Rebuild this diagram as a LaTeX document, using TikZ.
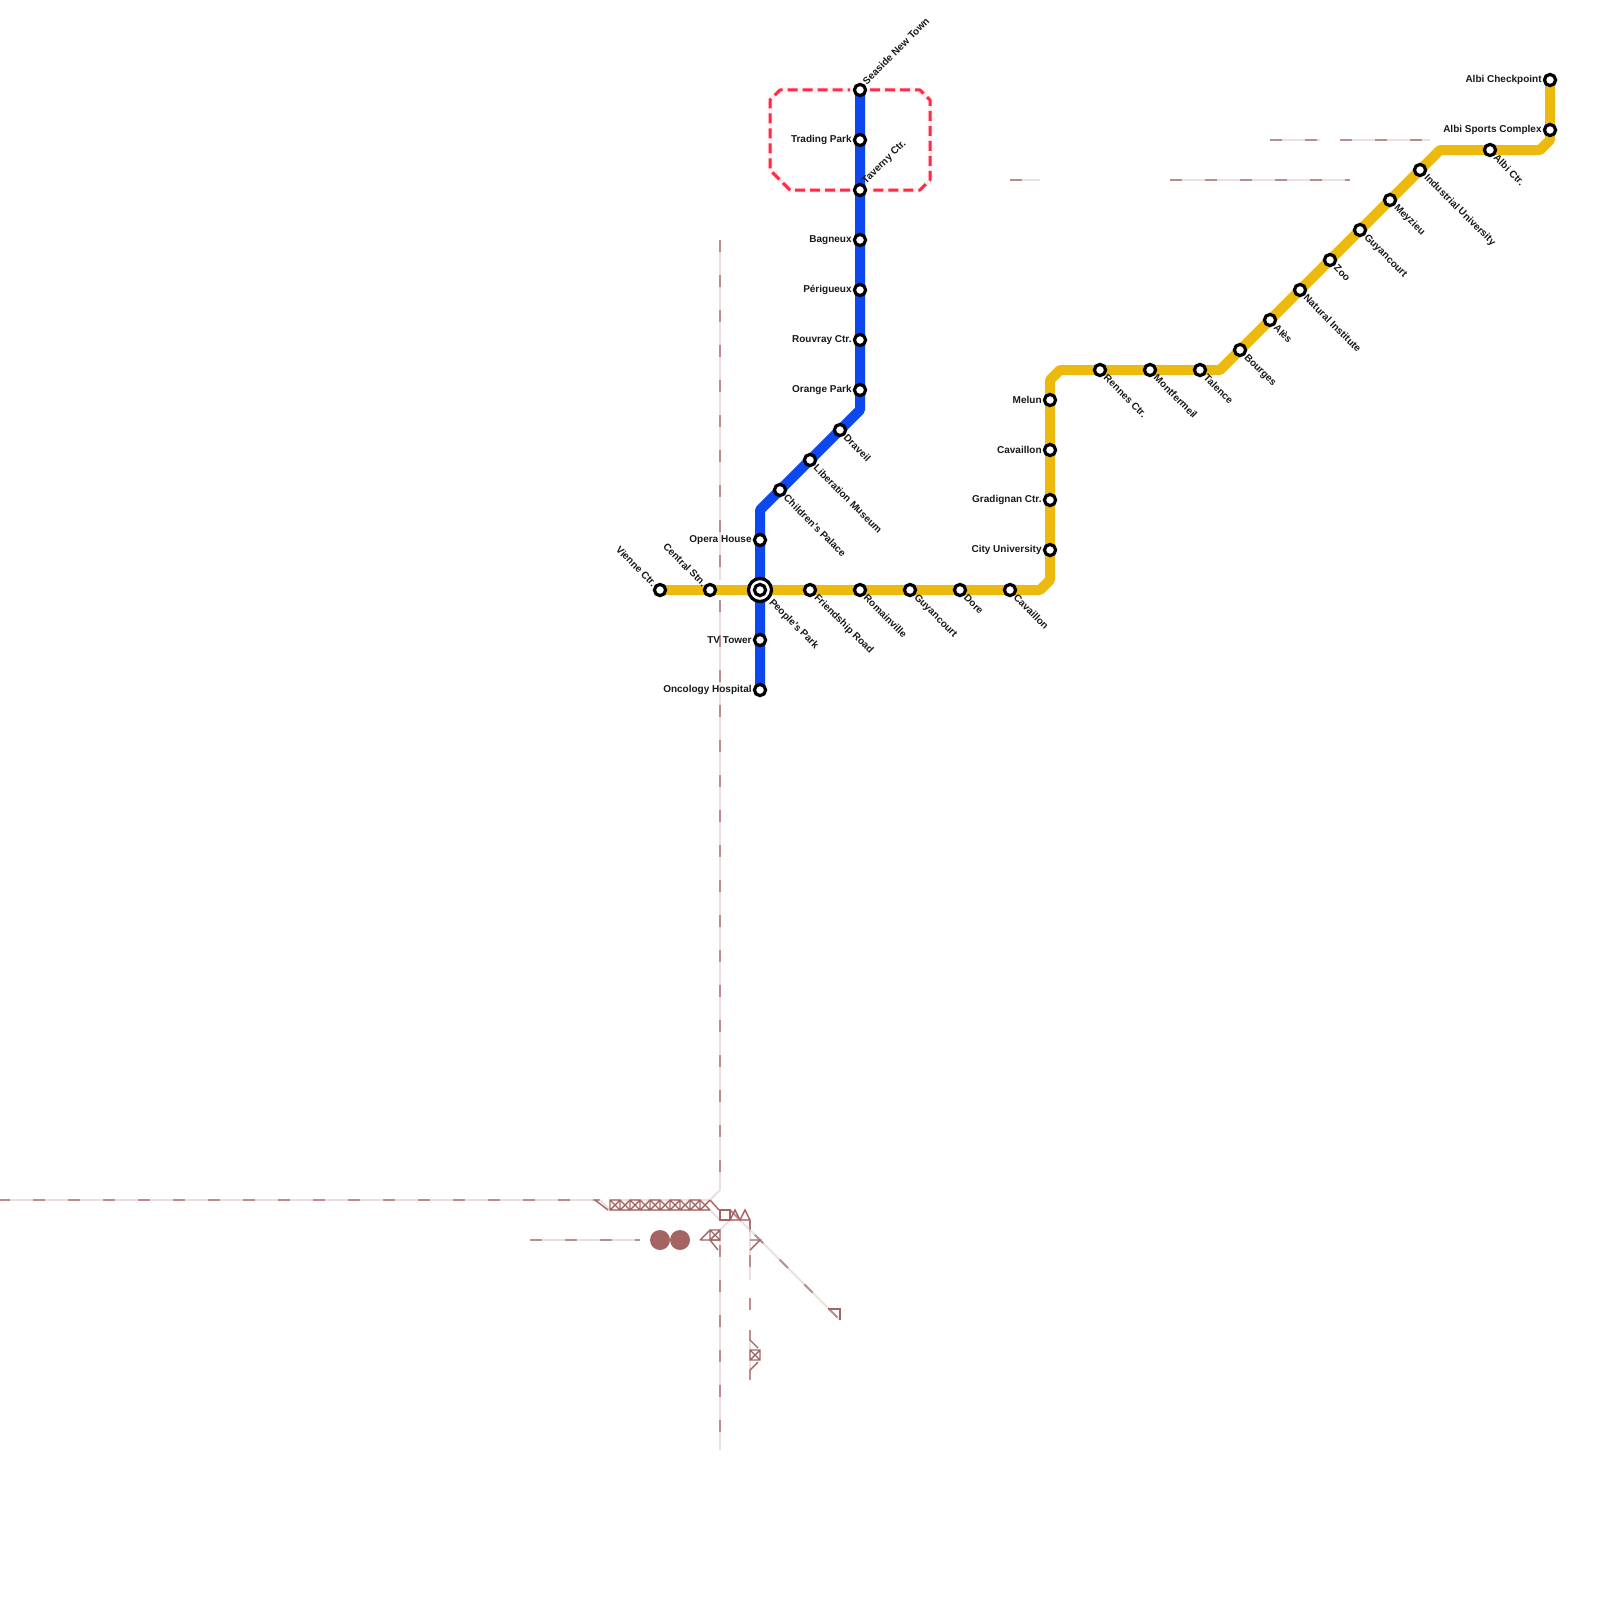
\documentclass[tikz,border=0pt]{standalone}
\usepackage{fontspec}
\setmainfont{Liberation Sans}
\usetikzlibrary{backgrounds}
\definecolor{ylw}{HTML}{ECBA0E}
\definecolor{blu}{HTML}{0D47EE}
\definecolor{redd}{HTML}{FF2A45}
\definecolor{halo}{HTML}{FFF0F2}
\definecolor{pale}{HTML}{ECDFDF}
\definecolor{dashcol}{HTML}{BA8E8E}
\definecolor{brn}{HTML}{A46464}
\tikzset{
  stn/.style={circle,draw=black,fill=white,line width=1.6pt,minimum size=5.6pt,inner sep=0pt},
  hub/.style={circle,draw=black,fill=white,line width=1.6pt,minimum size=11.5pt,inner sep=0pt},
  lbl/.style={font=\bfseries\fontsize{5}{6}\selectfont,inner sep=0pt,text=black!90},
  lblW/.style={lbl,anchor=east,yshift=-0.5pt},
  lblSE/.style={lbl,anchor=west,rotate=-45,xshift=0.5pt,yshift=-0.25pt},
  lblNE/.style={lbl,anchor=west,rotate=45,xshift=0.75pt},
  lblNW/.style={lbl,anchor=east,rotate=-45},
  ylwline/.style={draw=ylw,line width=5pt,line join=round},
  bluline/.style={draw=blu,line width=5pt,line join=round},
  redline/.style={draw=redd,line width=1.5pt,dash pattern=on 5pt off 2.5pt,line join=round},
  redhalo/.style={draw=halo,line width=2.5pt,line join=round},
  paleline/.style={draw=pale,line width=1pt},
  dashline/.style={draw=dashcol,line width=1pt,dash pattern=on 6pt off 11.5pt},
  mk/.style={draw=brn,line width=0.7pt},
}
\newcommand{\railA}[1]{\draw[paleline] #1; \draw[dashline] #1;}
\newcommand{\xbox}[2]{\draw[mk] (#1,#2) rectangle ++(10,10) (#1,#2) -- ++(10,10) (#1,#2+10) -- ++(10,-10);}
\newcommand{\xopen}[2]{\draw[mk] (#1,#2) -- ++(10,10) (#1,#2+10) -- ++(10,-10) (#1,#2+10) -- ++(10,0);}
\begin{document}
\begin{tikzpicture}[x=0.5pt,y=-0.5pt]
\useasboundingbox (0,0) rectangle (1600,1600);
% yellow stations
\node[stn] (vienne) at (660,590) {}; \node[lblNW] (lvienne) at (655,585) {Vienne Ctr.};
\node[stn] (central) at (710,590) {}; \node[lblNW] (lcentral) at (705,585) {Central Stn.};
\node[stn] (friend) at (810,590) {}; \node[lblSE] (lfriend) at (815,595) {Friendship Road};
\node[stn] (romain) at (860,590) {}; \node[lblSE] (lromain) at (865,595) {Romainville};
\node[stn] (guy) at (910,590) {}; \node[lblSE] (lguy) at (915,595) {Guyancourt};
\node[stn] (dore) at (960,590) {}; \node[lblSE] (ldore) at (965,595) {Dore};
\node[stn] (cav) at (1010,590) {}; \node[lblSE] (lcav) at (1015,595) {Cavaillon};
\node[stn] (city) at (1050,550) {}; \node[lblW] (lcity) at (1042,549) {City University};
\node[stn] (grad) at (1050,500) {}; \node[lblW] (lgrad) at (1042,499) {Gradignan Ctr.};
\node[stn] (cav2) at (1050,450) {}; \node[lblW] (lcav2) at (1042,449) {Cavaillon};
\node[stn] (melun) at (1050,400) {}; \node[lblW] (lmelun) at (1042,399) {Melun};
\node[stn] (rennes) at (1100,370) {}; \node[lblSE] (lrennes) at (1105,375) {Rennes Ctr.};
\node[stn] (mont) at (1150,370) {}; \node[lblSE] (lmont) at (1155,375) {Montfermeil};
\node[stn] (tal) at (1200,370) {}; \node[lblSE] (ltal) at (1205,375) {Talence};
\node[stn] (bour) at (1240,350) {}; \node[lblSE] (lbour) at (1245,355) {Bourges};
\node[stn] (ales) at (1270,320) {}; \node[lblSE] (lales) at (1275,325) {Alès};
\node[stn] (nat) at (1300,290) {}; \node[lblSE] (lnat) at (1305,295) {Natural Institute};
\node[stn] (zoo) at (1330,260) {}; \node[lblSE] (lzoo) at (1335,265) {Zoo};
\node[stn] (guy2) at (1360,230) {}; \node[lblSE] (lguy2) at (1365,235) {Guyancourt};
\node[stn] (mey) at (1390,200) {}; \node[lblSE] (lmey) at (1395,205) {Meyzieu};
\node[stn] (ind) at (1420,170) {}; \node[lblSE] (lind) at (1425,175) {Industrial University};
\node[stn] (albic) at (1490,150) {}; \node[lblSE] (lalbic) at (1495,155) {Albi Ctr.};
\node[stn] (albis) at (1550,130) {}; \node[lblW] (lalbis) at (1542,129) {Albi Sports Complex};
\node[stn] (albik) at (1550,80) {}; \node[lblW] (lalbik) at (1542,79) {Albi Checkpoint};
% blue stations
\node[stn] (sea) at (860,90) {}; \node[lblNE] (lsea) at (863,84) {Seaside New Town};
\node[stn] (trad) at (860,140) {}; \node[lblW] (ltrad) at (852,139) {Trading Park};
\node[stn] (tav) at (860,190) {}; \node[lblNE] (ltav) at (863,184) {Taverny Ctr.};
\node[stn] (bag) at (860,240) {}; \node[lblW] (lbag) at (852,239) {Bagneux};
\node[stn] (per) at (860,290) {}; \node[lblW] (lper) at (852,289) {Périgueux};
\node[stn] (rou) at (860,340) {}; \node[lblW] (lrou) at (852,339) {Rouvray Ctr.};
\node[stn] (ora) at (860,390) {}; \node[lblW] (lora) at (852,389) {Orange Park};
\node[stn] (dra) at (840,430) {}; \node[lblSE] (ldra) at (845,435) {Draveil};
\node[stn] (lib) at (810,460) {}; \node[lblSE] (llib) at (815,465) {Liberation Museum};
\node[stn] (chi) at (780,490) {}; \node[lblSE] (lchi) at (785,495) {Children's Palace};
\node[stn] (opera) at (760,540) {}; \node[lblW] (lopera) at (752,539) {Opera House};
\node[hub] (hubo) at (760,590) {};
\node[stn] (hubi) at (760,590) {};
\node[lblSE] (lhub) at (770,600) {People's Park};
\node[stn] (tv) at (760,640) {}; \node[lblW] (ltv) at (752,639) {TV Tower};
\node[stn] (onc) at (760,690) {}; \node[lblW] (lonc) at (752,689) {Oncology Hospital};
% bends
\coordinate (y1) at (1040,590); \coordinate (y2) at (1050,580);
\coordinate (y3) at (1050,380); \coordinate (y4) at (1060,370);
\coordinate (y5) at (1220,370); \coordinate (y6) at (1440,150);
\coordinate (y7) at (1540,150); \coordinate (y8) at (1550,140);
\coordinate (b1) at (860,410); \coordinate (b2) at (760,510);
\begin{pgfonlayer}{background}
  \fill[white] (0,0) rectangle (1600,1600);
  % pale rails
  \railA{(720,240) -- (720,580)}
  \railA{(720,600) -- (720,1190)}
  \draw[paleline] (720,1240) -- (720,1245);
  \railA{(720,1245) -- (720,1450)}
  \railA{(-2,1200) -- (600,1200)}
  \railA{(530,1240) -- (640,1240)}
  \railA{(1010,180) -- (1040,180)}
  \railA{(1170,180) -- (1350,180)}
  \railA{(1270,140) -- (1320,140)}
  \railA{(1340,140) -- (1430,140)}
  \railA{(750,1220) -- (750,1280)}
  \draw[dashcol,line width=1pt] (750,1298) -- (750,1310);
  \draw[paleline] (600,1200) -- (610,1210) -- (710,1210) -- (720,1220) -- (750,1220);
  \draw[paleline] (720,1190) -- (710,1200) -- (610,1200);
  \draw[paleline] (730,1220) -- (710,1240);
  \railA{(730,1210) -- (840,1320)}
  \draw[paleline] (750,1330) -- (750,1380);
  \draw[mk] (750,1330) -- (750,1340) -- (758,1348) (758,1362) -- (750,1370) -- (750,1380);
  % markers
  \draw[mk] (595,1200) -- (608,1210);
  \foreach \i in {610,630,650,670,690} {\xbox{\i}{1200}}
  \foreach \i in {620,640,660,680,700} {\xopen{\i}{1200}}
  \draw[mk] (710,1200) -- (719,1210);
  \draw[mk] (720,1210) rectangle (730,1220);
  \draw[mk] (730,1220) -- (735,1210) -- (740,1220) -- (745,1210) -- (750,1220) -- (750,1230) (730,1220) -- (750,1220);
  \draw[mk] (750,1240) -- (760,1240) -- (750,1250);
  \xbox{710}{1230}
  \draw[mk] (700,1240) -- (710,1230) (700,1240) -- (720,1240) (710,1240) -- (718,1250);
  \xbox{750}{1350}
  \draw[mk] (828,1309) -- (840,1309) -- (840,1320);
  \fill[brn] (660,1240) circle (10) (680,1240) circle (10);
  % red dashed
  \draw[redhalo] (870,90) -- (920,90) -- (930,100) -- (930,180) -- (920,190) -- (870,190);
  \draw[redhalo] (850,190) -- (790,190) -- (770,170) -- (770,100) -- (780,90) -- (850,90);
  \draw[redline] (870,90) -- (920,90) -- (930,100) -- (930,180) -- (920,190) -- (870,190);
  \draw[redline] (850,190) -- (790,190) -- (770,170) -- (770,100) -- (780,90) -- (850,90);
  % transit lines
  \draw[bluline] (sea.center) -- (trad.center) -- (tav.center) -- (bag.center) -- (per.center) -- (rou.center) -- (ora.center) -- (b1) -- (dra.center) -- (lib.center) -- (chi.center) -- (b2) -- (opera.center) -- (hubo.center) -- (tv.center) -- (onc.center);
  \draw[ylwline] (vienne.center) -- (central.center) -- (hubo.center) -- (friend.center) -- (romain.center) -- (guy.center) -- (dore.center) -- (cav.center) -- (y1) -- (y2) -- (city.center) -- (grad.center) -- (cav2.center) -- (melun.center) -- (y3) -- (y4) -- (rennes.center) -- (mont.center) -- (tal.center) -- (y5) -- (bour.center) -- (ales.center) -- (nat.center) -- (zoo.center) -- (guy2.center) -- (mey.center) -- (ind.center) -- (y6) -- (albic.center) -- (y7) -- (y8) -- (albis.center) -- (albik.center);
\end{pgfonlayer}
\end{tikzpicture}
\end{document}
